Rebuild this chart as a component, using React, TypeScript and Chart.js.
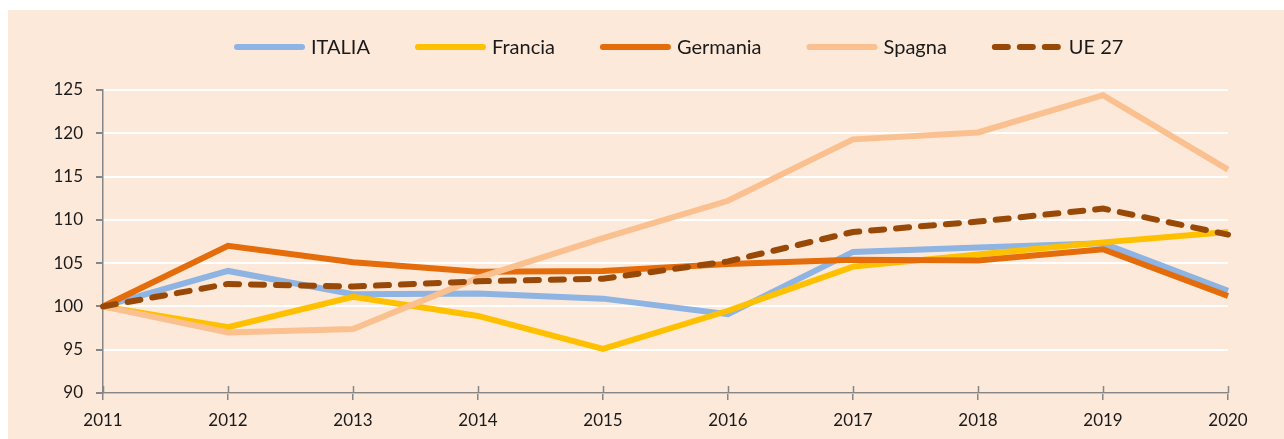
import React, { useEffect, useRef } from "react";
import { Chart, registerables } from "chart.js";

Chart.register(...registerables);

const years = ["2011", "2012", "2013", "2014", "2015", "2016", "2017", "2018", "2019", "2020"];
const italia = [100, 104.1, 101.4, 101.5, 100.9, 99.1, 106.3, 106.8, 107.3, 101.8];
const francia = [100, 97.6, 101.1, 98.9, 95.1, 99.5, 104.6, 106.0, 107.4, 108.6];
const germania = [100, 107.0, 105.1, 104.0, 104.1, 104.9, 105.4, 105.3, 106.6, 101.2];
const spagna = [100, 97.0, 97.4, 103.3, 107.9, 112.2, 119.3, 120.1, 124.4, 115.8];
const ue27 = [100, 102.6, 102.3, 102.9, 103.2, 105.2, 108.6, 109.8, 111.3, 108.3];
const seriesNames = ["ITALIA", "Francia", "Germania", "Spagna", "UE 27"];
const seriesColors = ["#8DB4E2", "#FFC000", "#E46C0A", "#FAC090", "#984807"];

const FONT = "Lato, 'Open Sans', sans-serif";
const AXIS = "#868686";

const legendPlugin = {
  id: "customLegend",
  afterDraw(chart: any) {
    const ctx = chart.ctx;
    const y = 37;
    let x = 226;
    const lineLen = 71;
    ctx.save();
    ctx.font = `20px ${FONT}`;
    ctx.textBaseline = "middle";
    chart.data.datasets.forEach((ds: any) => {
      ctx.strokeStyle = ds.borderColor;
      ctx.lineWidth = 6;
      ctx.lineCap = "round";
      ctx.setLineDash(ds.borderDash && ds.borderDash.length ? [13, 12] : []);
      ctx.beginPath();
      ctx.moveTo(x + 3, y);
      ctx.lineTo(x + lineLen - 3, y);
      ctx.stroke();
      ctx.setLineDash([]);
      ctx.fillStyle = "#1a1a1a";
      ctx.fillText(ds.label, x + lineLen + 6, y + 1);
      x += lineLen + 6 + ctx.measureText(ds.label).width + 45;
    });
    ctx.restore();
  },
};

const tickPlugin = {
  id: "upperTicks",
  afterDraw(chart: any) {
    const ctx = chart.ctx;
    const xs = chart.scales.x;
    const bottom = chart.chartArea.bottom;
    ctx.save();
    ctx.strokeStyle = AXIS;
    ctx.lineWidth = 1.5;
    xs.ticks.forEach((_t: any, i: number) => {
      const px = Math.round(xs.getPixelForTick(i)) + 0.5;
      ctx.beginPath();
      ctx.moveTo(px, bottom - 7);
      ctx.lineTo(px, bottom);
      ctx.stroke();
    });
    ctx.restore();
  },
};

export default function App() {
  const ref = useRef<HTMLCanvasElement>(null);
  useEffect(() => {
    if (!ref.current) return;
    const all = [italia, francia, germania, spagna, ue27];
    const chart = new Chart(ref.current, {
      type: "line",
      data: {
        labels: years,
        datasets: all.map((d, i) => ({
          label: seriesNames[i],
          data: d,
          borderColor: seriesColors[i],
          backgroundColor: seriesColors[i],
          borderWidth: 6,
          pointRadius: 0,
          tension: 0,
          fill: false,
          order: 5 - i,
          borderDash: i === 4 ? [13, 12] : [],
          borderCapStyle: i === 4 ? "round" : "butt",
        })),
      },
      options: {
        animation: false,
        responsive: false,
        layout: { padding: { top: 80, right: 56, left: 0, bottom: 0 } },
        plugins: {
          legend: { display: false },
          tooltip: { enabled: false },
        },
        scales: {
          x: {
            type: "category",
            offset: false,
            grid: {
              display: true,
              drawOnChartArea: false,
              drawTicks: true,
              tickLength: 7,
              color: AXIS,
              lineWidth: 1.5,
            },
            border: { display: true, color: AXIS, width: 1.5 },
            ticks: {
              color: "#1a1a1a",
              font: { family: FONT, size: 17 },
              padding: 10,
              maxRotation: 0,
              autoSkip: false,
            },
            afterFit: (s: any) => {
              s.height = 46;
            },
          },
          y: {
            min: 90,
            max: 125,
            grid: {
              color: "#FFFFFF",
              lineWidth: 2,
              tickColor: AXIS,
              tickLength: 7,
              drawTicks: true,
            },
            border: { display: true, color: AXIS, width: 1.5 },
            ticks: {
              stepSize: 5,
              color: "#1a1a1a",
              font: { family: FONT, size: 17 },
              padding: 13,
            },
            afterFit: (s: any) => {
              s.width = 95;
            },
          },
        },
      },
      plugins: [legendPlugin, tickPlugin],
    });
    return () => chart.destroy();
  }, []);
  return (
    <div
      style={{
        position: "absolute",
        left: 8,
        top: 10,
        width: 1276,
        height: 429,
        background: "#FDE9D9",
      }}
    >
      <canvas ref={ref} width={1276} height={429} style={{ display: "block" }} />
    </div>
  );
}
